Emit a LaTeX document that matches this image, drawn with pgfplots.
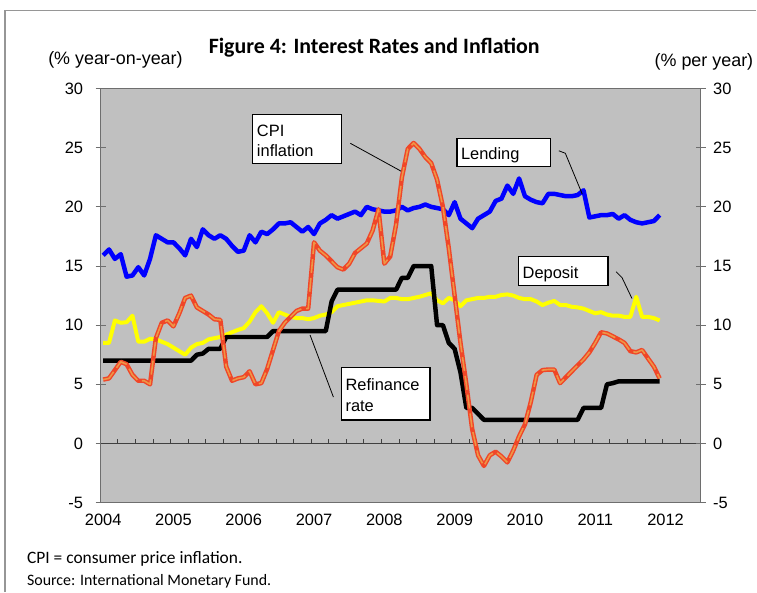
\documentclass[border=0pt]{standalone}
\usepackage{fontspec}
\setmainfont{Liberation Sans}
\newfontfamily\calibri{Carlito}
\usepackage{pgfplots}
\usepackage{pgfplotstable}
\pgfplotsset{compat=1.18}

\definecolor{plotgray}{RGB}{192,192,192}
\definecolor{axgray}{RGB}{110,110,110}
\definecolor{framegray}{RGB}{150,150,150}
\definecolor{lend}{RGB}{0,0,255}
\definecolor{dep}{RGB}{255,255,0}
\definecolor{cpired}{RGB}{240,70,40}
\definecolor{cpiorange}{RGB}{238,150,70}

% month index: 0 = Jan 2004
\pgfplotstableread{
m v
0 15.9
1 16.4
2 15.6
3 16.0
4 14.1
5 14.2
6 14.9
7 14.2
8 15.6
9 17.6
10 17.3
11 17.0
12 17.0
13 16.5
14 15.9
15 17.3
16 16.6
17 18.1
18 17.6
19 17.3
20 17.6
21 17.3
22 16.7
23 16.2
24 16.3
25 17.6
26 17.0
27 17.9
28 17.7
29 18.1
30 18.6
31 18.6
32 18.7
33 18.3
34 17.9
35 18.3
36 17.7
37 18.6
38 18.9
39 19.3
40 19.0
41 19.2
42 19.4
43 19.6
44 19.3
45 20.0
46 19.8
47 19.7
48 19.6
49 19.6
50 19.7
51 20.0
52 19.7
53 19.9
54 20.0
55 20.2
56 20.0
57 19.9
58 19.8
59 19.3
60 20.4
61 19.0
62 18.6
63 18.2
64 19.0
65 19.3
66 19.6
67 20.5
68 20.7
69 21.8
70 21.1
71 22.4
72 20.9
73 20.6
74 20.4
75 20.3
76 21.1
77 21.1
78 21.0
79 20.9
80 20.9
81 21.0
82 21.4
83 19.1
84 19.2
85 19.3
86 19.3
87 19.4
88 19.0
89 19.3
90 18.9
91 18.7
92 18.6
93 18.7
94 18.8
95 19.3
}\lending

\pgfplotstableread{
m v
0 8.5
1 8.5
2 10.4
3 10.2
4 10.25
5 10.8
6 8.6
7 8.6
8 8.85
9 8.8
10 8.6
11 8.4
12 8.1
13 7.8
14 7.5
15 8.1
16 8.4
17 8.5
18 8.8
19 8.9
20 9.0
21 9.2
22 9.4
23 9.6
24 9.75
25 10.3
26 11.1
27 11.6
28 11.0
29 10.2
30 11.1
31 10.9
32 10.7
33 10.6
34 10.6
35 10.5
36 10.6
37 10.8
38 10.9
39 11.1
40 11.6
41 11.7
42 11.8
43 11.9
44 12.0
45 12.1
46 12.1
47 12.05
48 12.0
49 12.3
50 12.3
51 12.2
52 12.2
53 12.3
54 12.4
55 12.55
56 12.7
57 12.1
58 11.85
59 12.3
60 12.1
61 11.6
62 12.1
63 12.2
64 12.3
65 12.3
66 12.4
67 12.4
68 12.55
69 12.6
70 12.5
71 12.3
72 12.2
73 12.2
74 12.0
75 11.7
76 11.9
77 12.05
78 11.7
79 11.7
80 11.55
81 11.5
82 11.4
83 11.2
84 11.0
85 11.1
86 10.9
87 10.8
88 10.8
89 10.7
90 10.7
91 12.4
92 10.7
93 10.7
94 10.6
95 10.4
}\deposit

\pgfplotstableread{
m v
0 7.0
15 7.0
16 7.5
17 7.6
18 8.0
20 8.0
21 9.0
28 9.0
29 9.5
38 9.5
39 12.0
40 13.0
50 13.0
51 14.0
52 14.0
53 15.0
56 15.0
57 10.0
58 10.0
59 8.5
60 8.0
61 6.0
62 3.0
63 3.0
64 2.5
65 2.0
81 2.0
82 3.0
85 3.0
86 5.0
87 5.1
88 5.25
95 5.25
}\refin

\pgfplotstableread{
m v
0 5.4
1 5.5
2 6.2
3 6.9
4 6.7
5 5.8
6 5.3
7 5.3
8 5.0
9 8.9
10 10.2
11 10.4
12 9.9
13 11.0
14 12.3
15 12.5
16 11.5
17 11.2
18 10.9
19 10.5
20 10.45
21 6.5
22 5.3
23 5.5
24 5.6
25 6.1
26 5.0
27 5.1
28 6.3
29 7.9
30 9.5
31 10.2
32 10.7
33 11.2
34 11.4
35 11.4
36 17.0
37 16.3
38 15.9
39 15.4
40 14.9
41 14.7
42 15.2
43 16.1
44 16.5
45 16.9
46 18.0
47 19.8
48 15.2
49 15.8
50 18.5
51 22.5
52 24.9
53 25.4
54 24.9
55 24.2
56 23.7
57 22.3
58 20.0
59 16.5
60 12.5
61 8.5
62 5.0
63 1.2
64 -1.0
65 -1.9
66 -1.0
67 -0.7
68 -1.1
69 -1.6
70 -0.6
71 0.6
72 1.6
73 3.5
74 5.8
75 6.2
76 6.25
77 6.25
78 5.1
79 5.6
80 6.1
81 6.6
82 7.1
83 7.7
84 8.5
85 9.4
86 9.3
87 9.05
88 8.8
89 8.5
90 7.8
91 7.7
92 7.9
93 7.2
94 6.5
95 5.5
}\cpi

\begin{document}
\begin{tikzpicture}[x=1pt,y=1pt]
\path (0,0) rectangle (757,593);
\draw[framegray, line width=1.2pt] (5,-2) -- (5,582.5) -- (760,582.5);

\begin{axis}[
  at={(101pt,88pt)}, anchor=south west,
  scale only axis, width=603pt, height=416pt,
  xmin=-0.45, xmax=102, ymin=-5, ymax=30,
  axis background/.style={fill=plotgray},
  axis line style={draw=axgray, line width=1pt},
  xtick={0,12,24,36,48,60,72,84,96},
  xticklabels={2004,2005,2006,2007,2008,2009,2010,2011,2012},
  major x tick style={draw=none},
  ytick={-5,0,5,10,15,20,25,30},
  yticklabels={-5,0,5,10,15,20,25,30},
  ytick pos=left, tick align=center, major tick length=10pt,
  major y tick style={draw=axgray, line width=0.8pt},
  tick label style={font=\fontsize{16.5}{18}\selectfont},
  xticklabel style={yshift=-3pt},
  yticklabel style={xshift=-9pt},
]
\draw[black!75, line width=0.9pt] (axis cs:-0.45,0) -- (axis cs:102,0);
\pgfplotsinvokeforeach{2.5,5.5,...,98.5}{
  \draw[black!75, line width=0.8pt] (axis cs:#1,0) -- ++(0pt,4.5pt);
}
\addplot[dep, line width=4pt, line join=round] table[x=m, y=v] {\deposit};
\addplot[lend, line width=4.5pt, line join=round] table[x=m, y=v] {\lending};
\addplot[black, line width=4.5pt, line join=round] table[x=m, y=v] {\refin};
\addplot[cpired, line width=4.5pt, line join=round] table[x=m, y=v] {\cpi};
\addplot[cpiorange, line width=1.6pt, line join=round, dash pattern=on 14pt off 5pt] table[x=m, y=v] {\cpi};
\end{axis}

\begin{axis}[
  at={(101pt,88pt)}, anchor=south west,
  scale only axis, width=603pt, height=416pt,
  xmin=-0.45, xmax=102, ymin=-5, ymax=30,
  hide x axis, axis y line*=right,
  y axis line style={draw=axgray, line width=1pt},
  ytick={-5,0,5,10,15,20,25,30},
  yticklabels={-5,0,5,10,15,20,25,30},
  tick align=center, major tick length=10pt,
  major y tick style={draw=axgray, line width=0.8pt},
  yticklabel style={font=\fontsize{16.5}{18}\selectfont, xshift=4pt},
]
\end{axis}

% titles and unit labels
\node[font=\calibri\bfseries\fontsize{22}{26}\selectfont] at (376,545) {Figure 4: Interest Rates and Inflation};
\node[font=\fontsize{18}{21}\selectfont] at (116,533) {(\% year-on-year)};
\node[font=\fontsize{18}{21}\selectfont, anchor=east, inner xsep=0pt] at (757,531) {(\% per year)};

% footnotes
\node[font=\calibri\fontsize{17.5}{20}\selectfont, anchor=base west, inner xsep=0pt] at (27,27) {CPI = consumer price inflation.};
\node[font=\calibri\fontsize{16}{18}\selectfont, anchor=base west, inner xsep=0pt] at (27,5) {Source: International Monetary Fund.};

% annotation boxes
\begin{scope}[font=\fontsize{16.5}{20}\selectfont]
\draw[black, line width=1.4pt, fill=white] (254,478) rectangle (343,429);
\node[anchor=base west, inner sep=0pt] at (258,456) {CPI};
\node[anchor=base west, inner sep=0pt] at (258,435.5) {inflation};
\draw[black, line width=0.8pt] (352,449) -- (403,421);

\draw[black, line width=1.4pt, fill=white] (459,454) rectangle (553,426);
\node[anchor=base west, inner sep=0pt] at (463,433) {Lending};
\draw[black, line width=0.8pt] (561.5,441.5) -- (568,439) -- (585,398);

\draw[black, line width=1.4pt, fill=white] (521,335) rectangle (611,306);
\node[anchor=base west, inner sep=0pt] at (525,313.5) {Deposit};
\draw[black, line width=0.8pt] (619,320) -- (625,314) -- (635,293);

\draw[black, line width=1.4pt, fill=white] (343,224) rectangle (432,171);
\node[anchor=base west, inner sep=0pt] at (347,201) {Refinance};
\node[anchor=base west, inner sep=0pt] at (347,179.5) {rate};
\draw[black, line width=0.8pt] (311.5,256.5) -- (335,194);
\end{scope}
\end{tikzpicture}
\end{document}
